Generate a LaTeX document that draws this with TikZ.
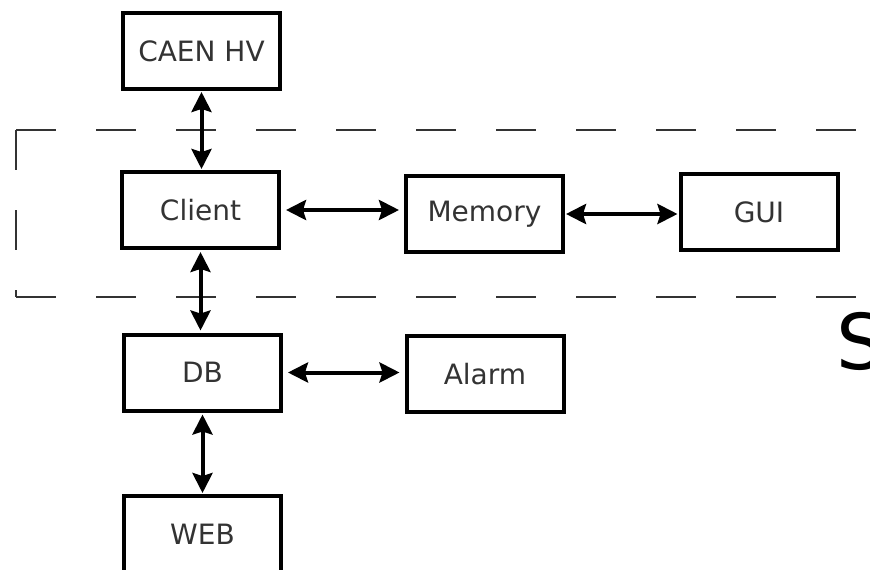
\documentclass[tikz,border=0pt]{standalone}
\usepackage{fontspec}
\setmainfont{DejaVu Sans}
\usetikzlibrary{arrows.meta}
\begin{document}
\begin{tikzpicture}[x=1pt,y=-1pt,
  blk/.style={draw=black,line width=4pt,minimum width=157pt,minimum height=76pt,inner sep=0pt,
    font=\fontsize{28}{32}\selectfont,text=black!80},
  biarrow/.style={line width=4pt,{Stealth[length=20pt,width=20pt,inset=3pt]}-{Stealth[length=20pt,width=20pt,inset=3pt]}},
  frame/.style={line width=2.2pt,draw=black!80,dash pattern=on 40pt off 40pt}]
\clip (0,0) rectangle (870,570);
\fill[white] (0,0) rectangle (870,570);
% dashed frame
\draw[frame] (16,130) -- (900,130);
\draw[frame] (16,130) -- (16,297);
\draw[frame] (16,297) -- (900,297);
% boxes
\node[blk] (caen) at (201.5,51) {CAEN HV};
\node[blk] (client) at (200.5,210) {Client};
\node[blk] (memory) at (484.5,214) {Memory};
\node[blk] (gui) at (759,212) {GUI};
\node[blk] (db) at (202.5,372.5) {DB};
\node[blk] (alarm) at (485,374) {Alarm};
\node[blk] (web) at (202.5,534) {WEB};
\node[anchor=base west,inner sep=0pt,font=\fontsize{77}{80}\selectfont] (s) at (836,369) {S};
% connectors
\draw[biarrow,shorten <=1pt,shorten >=1pt] (caen.south) -- (caen.south |- client.north);
\draw[biarrow,shorten <=5pt,shorten >=5pt] (client.east) -- (client.east -| memory.west);
\draw[biarrow,shorten <=1pt,shorten >=1pt] (memory.east) -- (memory.east -| gui.west);
\draw[biarrow,shorten <=2pt,shorten >=2pt] (client.south) -- (client.south |- db.north);
\draw[biarrow,shorten <=5pt,shorten >=5pt] (db.east) -- (db.east -| alarm.west);
\draw[biarrow,shorten <=2pt,shorten >=1pt] (web.north |- db.south) -- (web.north);
\end{tikzpicture}
\end{document}
